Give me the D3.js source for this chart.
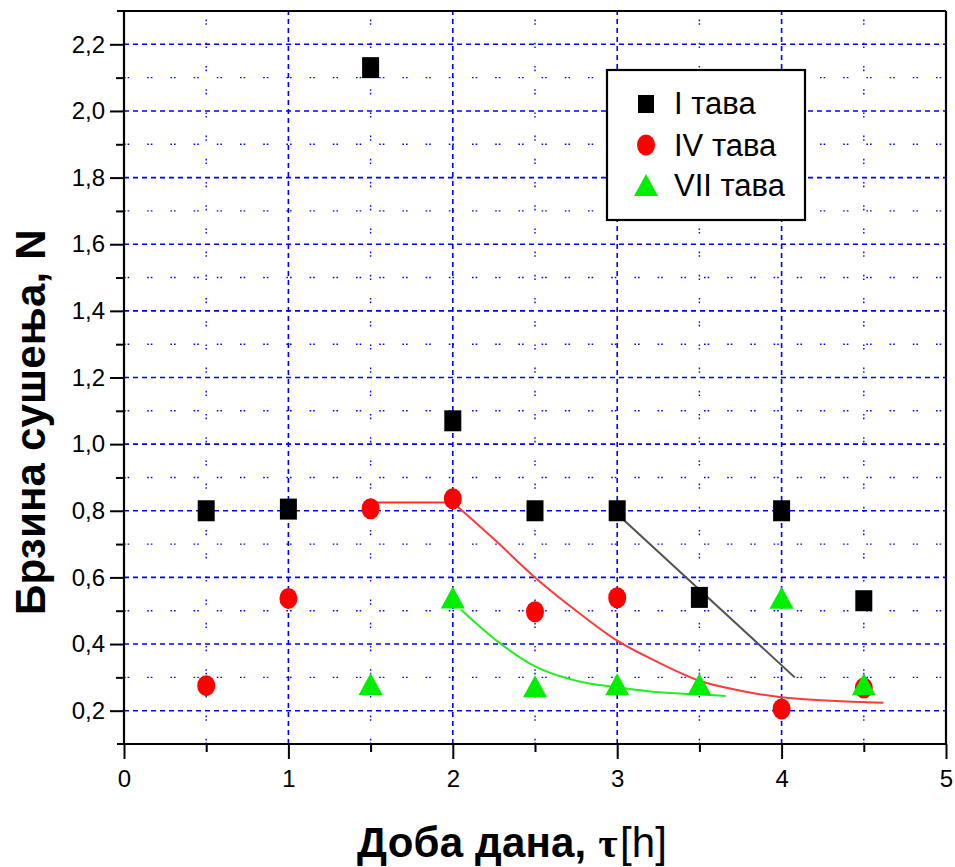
<!DOCTYPE html>
<html>
<head>
<meta charset="utf-8">
<script src="https://cdn.jsdelivr.net/npm/d3@7"></script>
<style>
  html, body { margin: 0; padding: 0; background: #fff; }
  svg { display: block; font-family: Arial, "Liberation Sans", sans-serif; }
</style>
</head>
<body>
<svg id="chart" width="955" height="867"></svg>
<script>
// Drying rate by time of day for three trays
const timeI   = [0.5, 1, 1.5, 2, 2.5, 3, 3.5, 4, 4.5];
const rateI   = [0.80, 0.805, 2.13, 1.07, 0.80, 0.80, 0.54, 0.80, 0.53];
const timeIV  = [0.5, 1, 1.5, 2, 2.5, 3, 4, 4.5];
const rateIV  = [0.275, 0.537, 0.806, 0.836, 0.497, 0.539, 0.205, 0.268];
const timeVII = [1.5, 2, 2.5, 3, 3.5, 4, 4.5];
const rateVII = [0.28, 0.54, 0.273, 0.279, 0.279, 0.539, 0.279];

// Fitted trend lines
const fitIflatX  = [1.5, 2.0];
const fitIflatY  = [0.825, 0.825];
const fitIVx = [2.0, 2.25, 2.5, 2.75, 3.0, 3.25, 3.5, 3.75, 4.0, 4.3, 4.62];
const fitIVy = [0.825, 0.715, 0.60, 0.50, 0.41, 0.345, 0.29, 0.26, 0.24, 0.23, 0.224];
const fitVIIx = [2.05, 2.28, 2.5, 2.75, 3.0, 3.25, 3.5, 3.66];
const fitVIIy = [0.503, 0.405, 0.333, 0.29, 0.27, 0.255, 0.249, 0.244];
const fitIx = [3.0, 4.08];
const fitIy = [0.79, 0.30];

const xMajor = [0, 1, 2, 3, 4, 5];
const xMinor = [0.5, 1.5, 2.5, 3.5, 4.5];
const yMajor = [0.2, 0.4, 0.6, 0.8, 1.0, 1.2, 1.4, 1.6, 1.8, 2.0, 2.2];
const yMinor = [0.3, 0.5, 0.7, 0.9, 1.1, 1.3, 1.5, 1.7, 1.9, 2.1];

const seriesNames = ["I тава", "IV тава", "VII тава"];
const xTitle = "Доба дана, ";
const yTitle = "Брзина сушења, N";

const svg = d3.select("#chart");
const x = d3.scaleLinear().domain([0, 5]).range([124, 946]);
const y = d3.scaleLinear().domain([0.1, 2.3]).range([744, 11]);
const [x0, x1] = x.range();
const [y0, y1] = y.range();
const comma = v => d3.format(".1f")(v).replace(".", ",");

// grid
const grid = svg.append("g").attr("stroke", "#0000ff").attr("fill", "none");
grid.selectAll(".hmaj").data(yMajor).join("line")
  .attr("x1", x0).attr("x2", x1).attr("y1", d => y(d)).attr("y2", d => y(d))
  .attr("stroke-width", 1.6).attr("stroke-dasharray", "5,4");
grid.selectAll(".hmin").data(yMinor).join("line")
  .attr("x1", x0).attr("x2", x1).attr("y1", d => y(d)).attr("y2", d => y(d))
  .attr("stroke-width", 1.4).attr("stroke-dasharray", "1.6,2,1.6,18");
grid.selectAll(".vmaj").data(xMajor.slice(1, -1)).join("line")
  .attr("y1", y0).attr("y2", y1).attr("x1", d => x(d)).attr("x2", d => x(d))
  .attr("stroke-width", 1.6).attr("stroke-dasharray", "5,4");
grid.selectAll(".vmin").data(xMinor).join("line")
  .attr("y1", y0).attr("y2", y1).attr("x1", d => x(d)).attr("x2", d => x(d))
  .attr("stroke-width", 1.4).attr("stroke-dasharray", "1.6,2,1.6,18");

// axes
const axisX = svg.append("g").attr("transform", `translate(0,${y0})`)
  .call(d3.axisBottom(x).tickValues(xMajor).tickSize(15).tickFormat(d3.format("d")));
svg.append("g").attr("transform", `translate(0,${y0})`)
  .call(d3.axisBottom(x).tickValues(xMinor).tickSize(8).tickFormat(""))
  .select(".domain").remove();
const axisY = svg.append("g").attr("transform", `translate(${x0},0)`)
  .call(d3.axisLeft(y).tickValues(yMajor).tickSize(14).tickFormat(comma));
svg.append("g").attr("transform", `translate(${x0},0)`)
  .call(d3.axisLeft(y).tickValues(yMinor).tickSize(8).tickFormat(""))
  .select(".domain").remove();
svg.selectAll(".domain").remove();
svg.selectAll(".tick line").attr("stroke", "#000").attr("stroke-width", 2);
axisX.selectAll(".tick text").attr("font-size", 24).attr("fill", "#000")
  .attr("font-family", "Arial, 'Liberation Sans', sans-serif").attr("dy", "1.05em");
axisY.selectAll(".tick text").attr("font-size", 24).attr("fill", "#000")
  .attr("font-family", "Arial, 'Liberation Sans', sans-serif").attr("x", -19);

// frame
const frame = svg.append("g").attr("stroke", "#000").attr("stroke-width", 2.2);
frame.append("line").attr("x1", x0 - 7).attr("x2", x1).attr("y1", y0).attr("y2", y0);
frame.append("line").attr("x1", x0 - 7).attr("x2", x1).attr("y1", y1).attr("y2", y1);
frame.append("line").attr("x1", x0).attr("x2", x0).attr("y1", y1).attr("y2", y0);
frame.append("line").attr("x1", x1).attr("x2", x1).attr("y1", y1).attr("y2", y0);

// trend lines
const lineLin = d3.line().x(d => x(d[0])).y(d => y(d[1]));
const lineSmooth = d3.line().x(d => x(d[0])).y(d => y(d[1])).curve(d3.curveMonotoneX);
svg.append("path").attr("d", lineLin(d3.zip(fitIx, fitIy)))
  .attr("stroke", "#505050").attr("stroke-width", 2).attr("fill", "none");
svg.append("path").attr("d", lineLin(d3.zip(fitIflatX, fitIflatY)))
  .attr("stroke", "#ff3030").attr("stroke-width", 2).attr("fill", "none");
svg.append("path").attr("d", lineSmooth(d3.zip(fitIVx, fitIVy)))
  .attr("stroke", "#ff3a3a").attr("stroke-width", 2).attr("fill", "none");
svg.append("path").attr("d", lineSmooth(d3.zip(fitVIIx, fitVIIy)))
  .attr("stroke", "#22ee22").attr("stroke-width", 2).attr("fill", "none");

// markers
const squarePath = (cx, cy) => `M${cx - 8.5},${cy - 10.5}h17v21h-17Z`;
const trianglePath = (cx, cy) => `M${cx},${cy - 11}L${cx + 12},${cy + 11}L${cx - 12},${cy + 11}Z`;

svg.append("g").selectAll("path").data(d3.zip(timeI, rateI)).join("path")
  .attr("d", d => squarePath(x(d[0]), y(d[1]))).attr("fill", "#000");
svg.append("g").selectAll("ellipse").data(d3.zip(timeIV, rateIV)).join("ellipse")
  .attr("cx", d => x(d[0])).attr("cy", d => y(d[1])).attr("rx", 9).attr("ry", 10.5)
  .attr("fill", "#ff0000");
svg.append("g").selectAll("path").data(d3.zip(timeVII, rateVII)).join("path")
  .attr("d", d => trianglePath(x(d[0]), y(d[1]))).attr("fill", "#00ee00");

// legend
const lg = svg.append("g");
lg.append("rect").attr("x", 607).attr("y", 70).attr("width", 198).attr("height", 150)
  .attr("fill", "#fff").attr("stroke", "#000").attr("stroke-width", 2.2);
const legendRows = [103, 145, 185];
lg.append("path").attr("d", `M638,95h16v18h-16Z`).attr("fill", "#000");
lg.append("ellipse").attr("cx", 646).attr("cy", legendRows[1]).attr("rx", 9).attr("ry", 10.5).attr("fill", "#ff0000");
lg.append("path").attr("d", trianglePath(646, legendRows[2])).attr("fill", "#00ee00");
lg.selectAll("text").data(seriesNames).join("text")
  .attr("x", 674).attr("y", (d, i) => legendRows[i] + 11)
  .attr("font-size", 31).attr("fill", "#000").text(d => d);

// axis titles
const xt = svg.append("text").attr("x", 357).attr("y", 857).attr("font-size", 42)
  .attr("letter-spacing", 0.2).attr("fill", "#000");
xt.append("tspan").attr("font-weight", "bold").text(xTitle);
xt.append("tspan").attr("font-weight", "bold").attr("font-family", "'Liberation Serif', 'DejaVu Serif', serif").text("τ");
xt.append("tspan").attr("dx", 2).text("[h]");

svg.append("text").attr("transform", "translate(45,422) rotate(-90)")
  .attr("text-anchor", "middle").attr("font-size", 42).attr("font-weight", "bold")
  .attr("letter-spacing", 0.2).attr("fill", "#000").text(yTitle);
</script>
</body>
</html>
